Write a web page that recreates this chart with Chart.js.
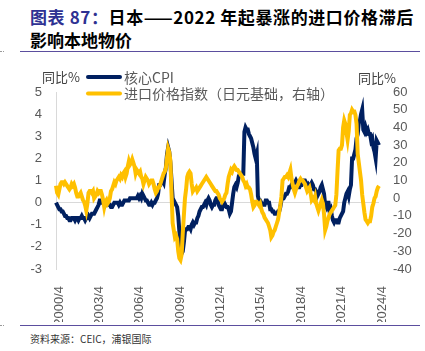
<!DOCTYPE html>
<html>
<head>
<meta charset="utf-8">
<script src="https://cdn.jsdelivr.net/npm/chart.js@4.4.1/dist/chart.umd.min.js"></script>
<style>
  html, body { margin: 0; padding: 0; background: #fff; }
  #page { position: relative; width: 425px; height: 351px; overflow: hidden; }
  #title {
    position: absolute; left: 30px; top: 5px;
    font: bold 17px "Noto Sans CJK SC", sans-serif; line-height: 23px; color: #000;
    white-space: nowrap;
  }
  #title .l1 { letter-spacing: 0.6px; }
  #title .lbl { color: #2e3192; }
  .rule { position: absolute; left: 20px; width: 400px; height: 0; border-top: 1.5px solid #5b4e9e; }
  .dash { position: absolute; left: 0; width: 4px; height: 0; border-top: 1px dotted #999; }
  #source {
    position: absolute; left: 30px; top: 331px;
    font: 10px "Noto Sans CJK SC", sans-serif; color: #333; white-space: nowrap;
  }
  #chart { position: absolute; left: 0; top: 56px; }
</style>
</head>
<body>
<div id="page">
  <div id="title"><span class="l1"><span class="lbl">图表 87：</span>日本——2022 年起暴涨的进口价格滞后</span><br>影响本地物价</div>
  <div class="rule" style="top:51px"></div>
  <div class="dash" style="top:51px"></div>
  <canvas id="chart" width="425" height="266"></canvas>
  <div class="rule" style="top:325px"></div>
  <div class="dash" style="top:325px"></div>
  <div id="source">资料来源：CEIC，浦银国际</div>
</div>
<script>
// monthly, 2000/4 - 2024/4
const months = [];
for (let y = 2000; y <= 2024; y++) {
    for (let m = 1; m <= 12; m++) {
        if (y === 2000 && m < 4) continue;
        if (y === 2024 && m > 4) break;
        months.push(y + '/' + m);
    }
}

const tickLabels = ['2000/4', '2003/4', '2006/4', '2009/4', '2012/4', '2015/4', '2018/4', '2021/4', '2024/4'];

// 核心CPI, 同比% (left axis)
const coreCpi = [
    0.0, -0.1, -0.2, -0.3, -0.3, -0.4, -0.4, -0.5, -0.6,                // 2000/4-12
    -0.6, -0.7, -0.7, -0.8, -0.8, -0.7, -0.7, -0.7, -0.8, -0.7, -0.7, -0.8, // 2001
    -0.7, -0.7, -0.6, -0.7, -0.7, -0.8, -0.7, -0.7, -0.6, -0.7, -0.6, -0.5, // 2002
    -0.5, -0.5, -0.4, -0.3, -0.2, -0.1, 0.1, 0.1, 0.0, 0.0, 0.0, -0.1,      // 2003
    0.0, 0.0, -0.1, -0.1, -0.2, -0.2, -0.1, 0.0, 0.0, 0.0, 0.0, -0.1,       // 2004
    0.0, -0.1, -0.1, 0.0, 0.1, 0.1, 0.1, 0.1, 0.1, 0.2, 0.2, 0.2,           // 2005
    0.2, 0.2, 0.2, 0.2, 0.3, 0.2, 0.3, 0.2, 0.4, 0.3, 0.2, 0.1,             // 2006
    0.1, 0.0, -0.1, -0.1, 0.0, -0.1, 0.0, 0.0, 0.1, 0.2, 0.4, 0.8,          // 2007
    0.8, 0.9, 1.0, 0.9, 1.3, 1.6, 2.2, 2.5, 2.3, 1.8, 1.0, 0.2,             // 2008
    0.1, 0.0, -0.1, -0.2, -0.6, -1.3, -1.9, -2.3, -2.2, -1.8, -1.3, -1.2,   // 2009
    -1.2, -1.1, -1.1, -1.2, -1.0, -0.9, -1.0, -0.9, -0.9, -0.7, -0.6, -0.4, // 2010
    -0.3, -0.2, -0.2, -0.1, 0.0, -0.1, 0.1, 0.2, 0.1, -0.1, -0.2, -0.1,     // 2011
    -0.1, 0.1, 0.2, 0.2, -0.1, -0.2, -0.3, -0.3, -0.1, 0.0, -0.1, -0.2,     // 2012
    -0.2, -0.3, -0.5, -0.4, 0.0, 0.4, 0.7, 0.8, 0.7, 0.9, 1.2, 1.3,         // 2013
    1.3, 1.3, 1.3, 3.2, 3.4, 3.3, 3.3, 3.1, 3.0, 2.9, 2.7, 2.5,             // 2014
    2.2, 2.0, 2.2, 0.3, 0.1, 0.1, 0.0, -0.1, -0.1, -0.1, 0.1, 0.1,          // 2015
    0.0, 0.0, -0.3, -0.3, -0.4, -0.4, -0.5, -0.5, -0.5, -0.4, -0.4, -0.2,   // 2016
    0.1, 0.2, 0.2, 0.3, 0.4, 0.4, 0.5, 0.7, 0.7, 0.8, 0.9, 0.9,             // 2017
    0.9, 1.0, 0.9, 0.7, 0.7, 0.8, 0.8, 0.9, 1.0, 1.0, 0.9, 0.7,             // 2018
    0.8, 0.7, 0.8, 0.9, 0.8, 0.6, 0.6, 0.5, 0.3, 0.4, 0.5, 0.7,             // 2019
    0.8, 0.6, 0.4, -0.1, -0.2, 0.0, 0.0, -0.4, -0.3, -0.6, -0.8, -0.9,      // 2020
    -0.8, -0.8, -0.9, -0.9, -0.7, -0.6, -0.5, -0.4, 0.0, 0.2, 0.4, 0.5,     // 2021
    0.3, 0.6, 0.8, 2.0, 2.0, 2.2, 2.4, 2.9, 3.1, 3.6, 3.7, 4.0,             // 2022
    4.2, 3.3, 3.2, 3.4, 3.2, 3.3, 3.1, 3.1, 2.8, 2.9, 2.5, 2.3,             // 2023
    2.0, 2.8, 2.7, 2.6                                                      // 2024/1-4
];

// 进口价格指数（日元基础）, 同比% (right axis)
const importPrice = [
    7, 3, 2, 5, 8, 9, 9, 8, 9,                       // 2000/4-12
    8, 7, 6, 5, 6, 8, 7, 8, 6, 3, 1, 1,              // 2001
    2, 3, 1, -1, -2, -4, -7, -3, 3, 4, 4, 3,         // 2002
    4, 0, 1, 2, 4, 3, 4, 4, 2, -1, -5, -2,           // 2003
    -1, -3, -2, 0, 4, 5, 7, 9, 8, 10, 11, 12,        // 2004
    11, 13, 12, 14, 15, 12, 14, 18, 21, 19, 20, 22,  // 2005
    20, 18, 14, 16, 15, 14, 15, 12, 11, 8, 10, 12,   // 2006
    11, 10, 8, 9, 10, 10, 8, 5, 3, 4, 6, 6,          // 2007
    8, 10, 12, 14, 15, 17, 23, 28, 26, 21, 3, -14,   // 2008
    -18, -22, -21, -23, -30, -34, -35, -32, -20, -10, 0, 5, // 2009
    12, 14, 15, 14, 8, 4, 5, 5, 6, 4, 5, 6,          // 2010
    7, 8, 9, 10, 11, 12, 11, 10, 9, 8, 7, 6,         // 2011
    5, 4, 4, 3, 2, 0, -1, -2, -1, 0, 2, 3,           // 2012
    8, 12, 14, 16, 15, 17, 18, 17, 16, 16, 15, 14,   // 2013
    13, 12, 10, 9, 7, 8, 6, 6, 5, 2, -2, -5,         // 2014
    -4, -2, -2, -3, -4, -3, -6, -8, -9, -11, -12, -13, // 2015
    -14, -16, -18, -22, -21, -19, -18, -16, -14, -12, -8, -4, // 2016
    1, 10, 11, 12, 12, 13, 12, 14, 16, 11, 8, 5,     // 2017
    3, 5, 7, 8, 10, 11, 10, 10, 9, 8, 6, 4,          // 2018
    5, 6, 3, -1, 0, -1, 1, -3, -5, -7, -5, -3,       // 2019
    -1, -3, -9, -18, -16, -13, -11, -9, -8, -7, -6, -5, // 2020
    -4, 2, 15, 27, 28, 28, 30, 40, 44, 42, 37, 33,   // 2021
    38, 47, 48, 50, 49, 49, 47, 42, 25, 20, 15, 10,  // 2022
    2, -3, -8, -12, -13, -14, -13, -13, -10, -5, -3, 0, // 2023
    1, 4, 6, 7                                       // 2024/1-4
];

Chart.defaults.font.family = '"Liberation Sans", Arial, sans-serif';
Chart.defaults.font.size = 13;
Chart.defaults.color = '#595959';

// stacked legend plus the two "同比%" axis captions
const legendPlugin = {
    id: 'stackedLegend',
    afterDraw(chart) {
        const ctx = chart.ctx;
        ctx.save();
        ctx.textBaseline = 'middle';
        ctx.textAlign = 'left';
        ctx.font = '13px "Noto Sans CJK SC"';
        ctx.fillStyle = '#404040';
        ctx.fillText('同比%', 42, 21);
        ctx.fillText('同比%', 358, 22);

        const rows = [chart.data.datasets[1], chart.data.datasets[0]];
        ctx.font = '14px "Noto Sans CJK SC"';
        rows.forEach(function (ds, i) {
            const y = 21 + i * 16.5;
            ctx.strokeStyle = ds.borderColor;
            ctx.lineWidth = 4;
            ctx.lineCap = 'round';
            ctx.beginPath();
            ctx.moveTo(88, y);
            ctx.lineTo(120, y);
            ctx.stroke();
            ctx.fillStyle = '#595959';
            ctx.fillText(ds.label, 124, y + 0.5);
        });
        ctx.restore();
    }
};

new Chart(document.getElementById('chart').getContext('2d'), {
    type: 'line',
    data: {
        labels: months,
        datasets: [
            {
                label: '进口价格指数（日元基础，右轴）',
                data: importPrice,
                yAxisID: 'y1',
                borderColor: '#ffc000',
                borderWidth: 4,
                pointRadius: 0,
                order: 0
            },
            {
                label: '核心CPI',
                data: coreCpi,
                yAxisID: 'y',
                borderColor: '#002060',
                borderWidth: 4,
                pointRadius: 0,
                order: 1
            }
        ]
    },
    options: {
        responsive: false,
        animation: false,
        layout: { padding: { top: 36, left: 0, right: 0, bottom: 0 } },
        plugins: {
            legend: { display: false },
            tooltip: { enabled: false }
        },
        scales: {
            x: {
                grid: { display: false },
                border: { display: false },
                ticks: {
                    autoSkip: false,
                    minRotation: 90,
                    maxRotation: 90,
                    padding: 9,
                    labelOffset: 3,
                    callback: function (value, index) {
                        const lab = months[index];
                        return tickLabels.includes(lab) ? lab : null;
                    }
                },
                afterFit: function (scale) { scale.height = 53; }
            },
            y: {
                position: 'left',
                min: -3,
                max: 5,
                ticks: { stepSize: 1, padding: 14, autoSkip: false },
                grid: {
                    drawTicks: false,
                    color: function (c) { return c.tick && c.tick.value === 0 ? '#d9d9d9' : 'rgba(0,0,0,0)'; }
                },
                border: { display: true, color: '#d9d9d9' },
                afterFit: function (scale) { scale.width = 56; }
            },
            y1: {
                position: 'right',
                min: -40,
                max: 60,
                ticks: { stepSize: 10, padding: 14, autoSkip: false },
                grid: { display: false, drawTicks: false },
                border: { display: false },
                afterFit: function (scale) { scale.width = 46; }
            }
        }
    },
    plugins: [legendPlugin]
});
</script>
</body>
</html>
